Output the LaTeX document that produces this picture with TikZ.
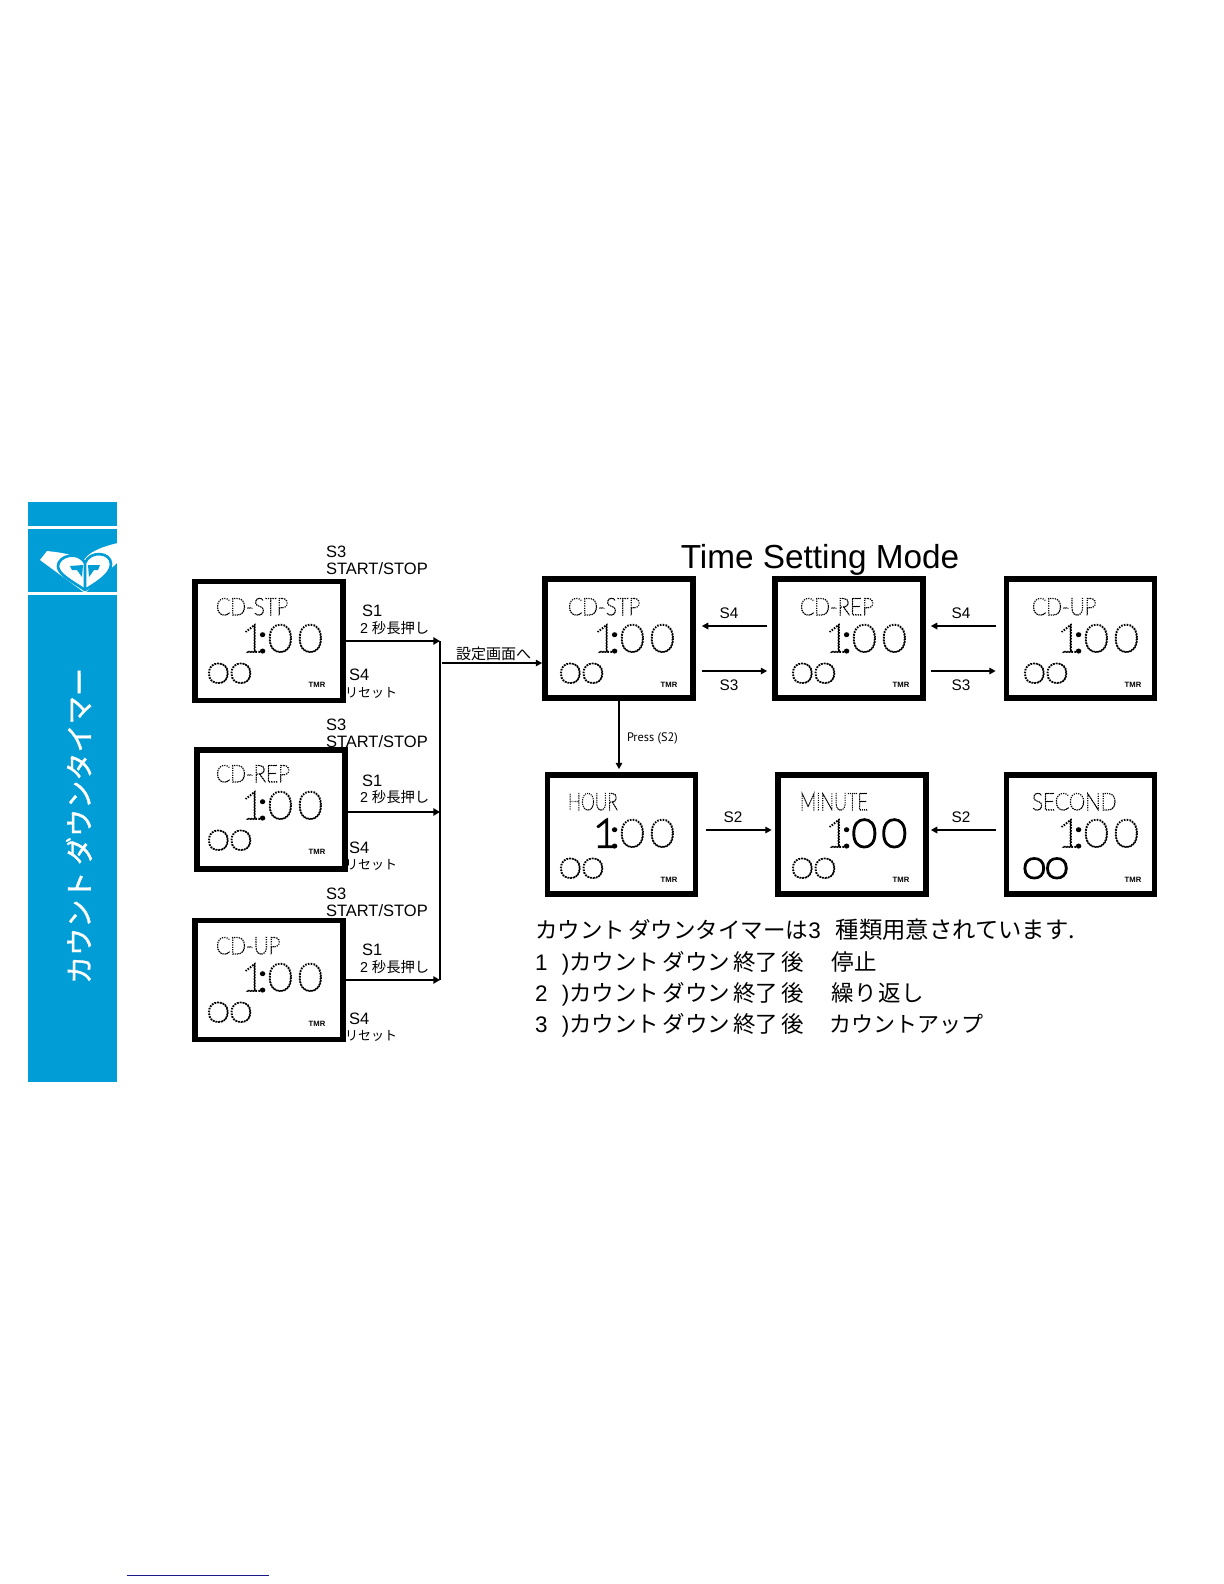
\documentclass[tikz,border=0pt]{standalone}
\usepackage{fontspec}
\setmainfont{Liberation Sans}
\newfontfamily\jpfont{Noto Sans CJK JP}
\newfontfamily\panelfont[FakeBold=1.2]{Noto Sans CJK JP}
\newfontfamily\pressfont{PT Sans}
\newfontfamily\lcdtitlefont[FakeStretch=0.88]{Lato Hairline}
\newfontfamily\lcdnumfont[FakeStretch=1.12]{Lato Hairline}
\newfontfamily\lcdsmallfont[FakeStretch=1.4]{Lato Hairline}
\usetikzlibrary{arrows.meta,positioning,calc}

\definecolor{panelblue}{HTML}{009DD6}
\definecolor{navyline}{HTML}{1A1A8C}

% dotted / solid glyph outlines for the LCD segments
\newcommand{\lcddot}[1]{\special{pdf:code 1 Tr 0.9 w [0.9 0.8] 0 d}#1\special{pdf:code 0 Tr [] 0 d}}
\newcommand{\lcdthin}[1]{\special{pdf:code 1 Tr 0.6 w [0.6 0.8] 0 d}#1\special{pdf:code 0 Tr [] 0 d}}
\newcommand{\lcdbold}[1]{\special{pdf:code 1 Tr 1.4 w [] 0 d}#1\special{pdf:code 0 Tr [] 0 d}}
\newcommand{\lcdzero}{0\kern2.8pt 0}
\newcommand{\lcdone}{\lcddot{1}\kern-5.2pt\lcdbold{:}}
\newcommand{\cdline}[1]{{\rmfamily #1 \kern4.8pt)}{\spaceskip=2pt カウント ダウン 終了 後}}

% #1,#2 screen origin; #3 title; #4 big time; #5 small digits
\newcommand{\lcdscreen}[5]{%
  \node[lcdtitle,anchor=base west] at (#1,#2+9) {\lcdthin{#3}};
  \node[lcdbig,anchor=base east] at (#1+107,#2+46) {#4};
  \node[lcdsmall,anchor=base west] at (#1-9,#2+77) {#5};
  \node[tmr] at (#1+101,#2+79) {TMR};
}

\begin{document}
\begin{tikzpicture}[
  x=0.6pt,y=-0.6pt,
  every node/.style={inner sep=0pt,outer sep=0pt},
  lcd/.style={draw,line width=3.5pt,fill=white,minimum width=88.8pt,minimum height=71.4pt,outer sep=1.75pt},
  lcdtitle/.style={font=\lcdtitlefont\fontsize{14.2}{15}\selectfont},
  lcdbig/.style={font=\lcdnumfont\fontsize{23.4}{24}\selectfont},
  lcdsmall/.style={font=\lcdsmallfont\fontsize{16.7}{17}\selectfont},
  tmr/.style={font=\bfseries\fontsize{4.6}{5}\selectfont},
  lbl/.style={anchor=west,align=left,font=\fontsize{9.9}{9.6}\selectfont},
  key/.style={font=\fontsize{9.2}{10}\selectfont},
  jps/.style={anchor=west,font=\fontsize{8.6}{9}\selectfont},
  rst/.style={anchor=west,font=\jpfont\fontsize{7.8}{9}\selectfont},
  fat/.style={line width=1.2pt,-{Triangle[length=4pt,width=4.4pt]}},
  arw/.style={line width=0.7pt,-{Triangle[length=3.8pt,width=4pt]}}]

  \useasboundingbox (0,0) rectangle (1224,1584);

  % --- side panel with logo
  \fill[panelblue] (28,502) rectangle (117,526);
  \fill[panelblue] (28,529) rectangle (117,592);
  \fill[panelblue] (28,595) rectangle (117,1082);
  \fill[white] (40,560) -- (47,551) .. controls (55,552) and (70,553) .. (84,560)
    .. controls (88,553) and (100,547) .. (118,543) -- (118,562) -- (85,593) -- cycle;
  \draw[panelblue,line width=1.6pt,line join=round] (85,590) .. controls (70,580) and (58,574) .. (58,566)
    .. controls (58,556) and (78,550) .. (85,563) .. controls (90,550) and (111,552) .. (111,564)
    .. controls (111,574) and (98,582) .. (85,590) -- (85,563);
  \fill[panelblue] (70,566) -- (83,565) -- (82,577) -- (77,570) -- (72,570) -- cycle;
  \fill[panelblue] (100,565) -- (88,565) -- (89,577) -- (94,570) -- (98,570) -- cycle;
  \node[rotate=90,text=white,font=\panelfont\fontsize{16.9}{18}\selectfont] (paneltxt) at (79,826) {カウント ダウンタイマー};

  % --- left column: run screens
  \node[lcd] (runstp) at (269,641) {};
  \lcdscreen{216}{606}{CD-STP}{\lcdone\lcddot{\lcdzero}}{\lcddot{00}}
  \node[lcd] (runrep) at (271,809.5) {};
  \lcdscreen{216}{773}{CD-REP}{\lcdone\lcddot{\lcdzero}}{\lcddot{00}}
  \node[lcd] (runup) at (269,980) {};
  \lcdscreen{216}{945}{CD-UP}{\lcdone\lcddot{\lcdzero}}{\lcddot{00}}

  \node[lbl] (startstpa) at (326,560) {S3\\[0.5pt]START/STOP};
  \node[lbl] (holda) at (362,611) {S1};
  \node[jps] (holdtxta) at (360,628) {2 {\jpfont 秒長押し}};
  \node[lbl] (reseta) at (349,675) {S4};
  \node[rst] (resettxta) at (345,693) {リセット};

  \node[lbl] (startstpb) at (326,733) {S3\\[0.5pt]START/STOP};
  \node[lbl] (holdb) at (362,781) {S1};
  \node[jps] (holdtxtb) at (360,797) {2 {\jpfont 秒長押し}};
  \node[lbl] (resetb) at (349,848) {S4};
  \node[rst] (resettxtb) at (345,865) {リセット};

  \node[lbl] (startstpc) at (326,902.5) {S3\\[0.5pt]START/STOP};
  \node[lbl] (holdc) at (362,950) {S1};
  \node[jps] (holdtxtc) at (360,967) {2 {\jpfont 秒長押し}};
  \node[lbl] (resetc) at (349,1019) {S4};
  \node[rst] (resettxtc) at (345,1036) {リセット};

  % --- bus to the setting screens
  \coordinate (bustop) at (440,641);
  \coordinate (busmid) at (440,812);
  \coordinate (busbot) at (440,980);
  \coordinate (feed) at (442,663);
  \draw[fat] (runstp.east) -- (bustop);
  \draw[fat] (runrep.east |- busmid) -- (busmid);
  \draw[fat] (runup.east) -- (busbot);
  \draw[line width=1.2pt] (bustop) -- (busbot);
  \node[jps,font=\jpfont\fontsize{9}{10}\selectfont] (tosetting) at (456,654) {設定画面へ};

  % --- title
  \node[font=\fontsize{20}{20}\selectfont] (modetitle) at (820,560) {Time Setting Mode};

  % --- upper row
  \node[lcd] (setstp) at (619,638.5) {};
  \lcdscreen{568}{606}{CD-STP}{\lcdone\lcddot{\lcdzero}}{\lcddot{00}}
  \node[lcd] (setrep) at (849,638.5) {};
  \lcdscreen{800}{606}{CD-REP}{\lcdone\lcddot{\lcdzero}}{\lcddot{00}}
  \node[lcd] (setup) at (1080.5,638.5) {};
  \lcdscreen{1032}{606}{CD-UP}{\lcdone\lcddot{\lcdzero}}{\lcddot{00}}
  \draw[arw] (feed) -- (setstp.west |- feed);

  % --- lower row
  \node[lcd] (sethour) at (621.5,834.5) {};
  \lcdscreen{568}{801}{\scalebox{0.84}[1]{HOUR}}{\lcdbold{1}\kern-5.2pt\lcdbold{:}\lcddot{\lcdzero}}{\lcddot{00}}
  \node[lcd] (setmin) at (852,834.5) {};
  \lcdscreen{800}{801}{\scalebox{0.87}[1]{MINUTE}}{\lcdone\lcdbold{\lcdzero}}{\lcddot{00}}
  \node[lcd] (setsec) at (1080.5,834.5) {};
  \lcdscreen{1032}{801}{SECOND}{\lcdone\lcddot{\lcdzero}}{\lcdbold{00}}

  % --- connectors between the setting screens
  \draw[arw,shorten <=5pt*0.6,shorten >=6pt*0.6] (setrep.west |- 0,626) -- (setstp.east |- 0,626);
  \draw[arw,shorten <=6pt*0.6,shorten >=5pt*0.6] (setstp.east |- 0,671) -- (setrep.west |- 0,671);
  \draw[arw,shorten <=8pt*0.6,shorten >=5pt*0.6] (setup.west |- 0,626) -- (setrep.east |- 0,626);
  \draw[arw,shorten <=5pt*0.6,shorten >=8pt*0.6] (setrep.east |- 0,671) -- (setup.west |- 0,671);
  \draw[arw,shorten <=7.5pt*0.6,shorten >=3.5pt*0.6] (sethour.east |- 0,830) -- (setmin.west |- 0,830);
  \draw[arw,shorten <=8pt*0.6,shorten >=2pt*0.6] (setsec.west |- 0,830) -- (setmin.east |- 0,830);
  \draw[arw,shorten >=3pt*0.6] (setstp.south) -- (sethour.north -| setstp.south);

  \node[key] (keya) at (729,613) {S4};
  \node[key] (keyb) at (729,685) {S3};
  \node[key] (keyc) at (961,613) {S4};
  \node[key] (keyd) at (961,685) {S3};
  \node[key] (keye) at (733,817) {S2};
  \node[key] (keyf) at (961,817) {S2};
  \node[anchor=west,font=\pressfont\fontsize{7.4}{8}\selectfont] (pressa) at (627,738) {Press (S2)};

  % --- explanation
  \node[anchor=west,align=left,font=\jpfont\fontsize{13.5}{18.8}\selectfont] (notes) at (535,978.5)
    {{\spaceskip=2pt カウント ダウンタイマーは{\rmfamily 3}\hspace{7pt} {\fontsize{14}{18.8}\selectfont 種類用意されています.}}\\
     \makebox[178.2pt][l]{\cdline{1}}停止\\
     \makebox[178.2pt][l]{\cdline{2}}{\spaceskip=1pt 繰り 返し}\\
     \makebox[176.4pt][l]{\cdline{3}}{\fontsize{13.2}{18.8}\selectfont カウントアップ}};

  % --- rule at the foot of the page
  \coordinate (footl) at (127,1575);
  \coordinate (footr) at (269,1575);
  \draw[navyline,line width=0.6pt] (footl) -- (footr);
\end{tikzpicture}
\end{document}
